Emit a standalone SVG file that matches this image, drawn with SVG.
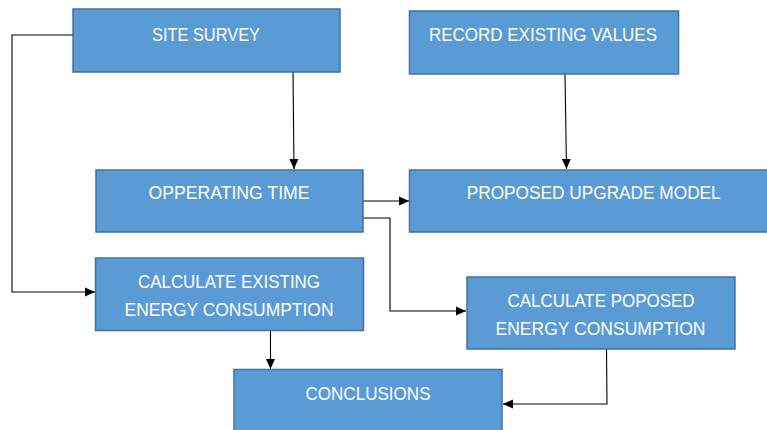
<svg xmlns="http://www.w3.org/2000/svg" width="767" height="430" viewBox="0 0 767 430">
<style>
.box{fill:#5B9BD5;stroke:#41719C;stroke-width:1.5}
.lbl{fill:#FFFFFF;font-family:"Liberation Sans Narrow","Liberation Sans",Arial,sans-serif;font-size:19px;text-anchor:middle}
.con{fill:none;stroke:#000000;stroke-width:1.1;marker-end:url(#arr)}
</style>
<defs>
<marker id="arr" markerUnits="userSpaceOnUse" markerWidth="11" markerHeight="10" refX="10" refY="5" orient="auto">
<path d="M0,0.5 L10,5 L0,9.5 z" fill="#000000"/>
</marker>
</defs>
<rect width="767" height="430" fill="#FFFFFF"/>
<g id="connectors">
<polyline class="con" points="73,35 12,35 12,292 95,292"/>
<polyline class="con" points="293,72 294,169"/>
<polyline class="con" points="565,74 566.5,169"/>
<polyline class="con" points="363,201 409,201"/>
<polyline class="con" points="363,218 390,218 390,311 466,311"/>
<polyline class="con" points="270.5,331 270.5,369"/>
<polyline class="con" points="606.5,349 607,404 503,404"/>
</g>
<g id="site-survey">
<rect class="box" x="73" y="9" width="267" height="63"/>
<text class="lbl" x="206" y="40.5" textLength="108" lengthAdjust="spacingAndGlyphs">SITE SURVEY</text>
</g>
<g id="record-existing-values">
<rect class="box" x="409.5" y="11" width="269" height="63"/>
<text class="lbl" x="543" y="41.3" textLength="228" lengthAdjust="spacingAndGlyphs">RECORD EXISTING VALUES</text>
</g>
<g id="opperating-time">
<rect class="box" x="96" y="170" width="267" height="62"/>
<text class="lbl" x="229" y="199" textLength="161" lengthAdjust="spacingAndGlyphs">OPPERATING TIME</text>
</g>
<g id="proposed-upgrade-model">
<rect class="box" x="409.5" y="170" width="370" height="62"/>
<text class="lbl" x="593.7" y="199" textLength="254" lengthAdjust="spacingAndGlyphs">PROPOSED UPGRADE MODEL</text>
</g>
<g id="calculate-existing">
<rect class="box" x="95.5" y="258" width="268" height="72.5"/>
<text class="lbl" x="229" y="288.3" textLength="182" lengthAdjust="spacingAndGlyphs">CALCULATE EXISTING</text>
<text class="lbl" x="229" y="316" textLength="209" lengthAdjust="spacingAndGlyphs">ENERGY CONSUMPTION</text>
</g>
<g id="calculate-proposed">
<rect class="box" x="467" y="277" width="268" height="72"/>
<text class="lbl" x="601" y="306.7" textLength="187" lengthAdjust="spacingAndGlyphs">CALCULATE POPOSED</text>
<text class="lbl" x="600.5" y="335" textLength="210" lengthAdjust="spacingAndGlyphs">ENERGY CONSUMPTION</text>
</g>
<g id="conclusions">
<rect class="box" x="234" y="369.5" width="268" height="75"/>
<text class="lbl" x="368" y="400" textLength="125" lengthAdjust="spacingAndGlyphs">CONCLUSIONS</text>
</g>
</svg>
